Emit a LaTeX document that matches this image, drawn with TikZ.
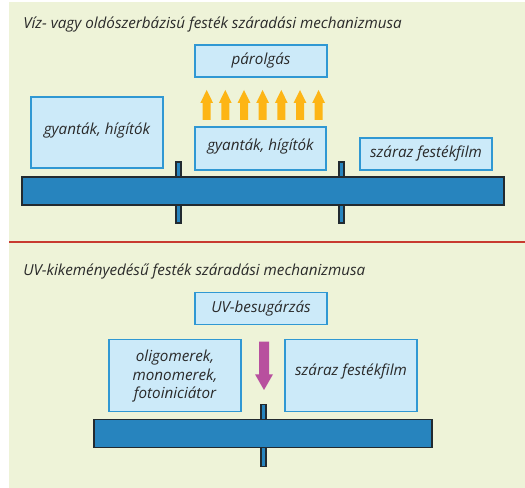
\documentclass[tikz,border=0pt]{standalone}
\usepackage{fontspec}
\setmainfont{Open Sans}
\usetikzlibrary{calc}
\definecolor{bggreen}{HTML}{EEF3D8}
\definecolor{boxfill}{HTML}{CCEAF9}
\definecolor{boxline}{HTML}{3098D3}
\definecolor{barblue}{HTML}{2784BE}
\definecolor{bardark}{HTML}{222A30}
\definecolor{redline}{HTML}{C83A30}
\definecolor{orangearr}{HTML}{FDB515}
\definecolor{magarr}{HTML}{B8509E}
\definecolor{txt}{HTML}{2A2A2A}
\tikzset{
  infobox/.style={draw=boxline, line width=0.9pt, fill=boxfill, inner sep=0pt},
  lbl/.style={font=\itshape\fontsize{11.4}{13.9}\selectfont, text=txt, align=center, inner sep=0pt},
  ttl/.style={font=\itshape\fontsize{11.4}{13.9}\selectfont, text=txt, anchor=base west, inner sep=0pt},
  barstyle/.style={draw=bardark, line width=1pt, fill=barblue},
  poststyle/.style={draw=bardark, line width=1pt, fill=barblue},
  uparr/.style={fill=orangearr},
  downarr/.style={fill=magarr}
}
\begin{document}
\begin{tikzpicture}[x=0.75pt,y=-0.75pt]
\useasboundingbox (0,0) rectangle (525,488);
\fill[white] (0,0) rectangle (525,488);
\fill[bggreen] (9,2) rectangle (525,488);
\coordinate (rl) at (9,242);
\coordinate (rr) at (525,242);
\draw[redline, line width=1.5pt] (rl) -- (rr);

% ---- section 1
\node[ttl] (t1) at (23,29) {Víz- vagy oldószerbázisú festék száradási mechanizmusa};
\node[infobox, minimum width=132*0.75pt, minimum height=32*0.75pt] (par) at (261,61) {};
\node[lbl] (parl) at (par.center) {párolgás};
\node[infobox, minimum width=132*0.75pt, minimum height=71*0.75pt] (gl) at (97,132.5) {};
\node[lbl] (gll) at ($(gl.center)+(0,-2)$) {gyanták, hígítók};
\node[infobox, minimum width=131*0.75pt, minimum height=43*0.75pt] (gm) at (260.5,148.5) {};
\node[lbl] (gml) at ($(gm.center)+(0,-1.5)$) {gyanták, hígítók};
\node[infobox, minimum width=132*0.75pt, minimum height=32*0.75pt] (sz1) at (426,154) {};
\node[lbl] (sz1l) at (sz1.center) {száraz festékfilm};

\draw[poststyle] (176,162) rectangle (181,223);
\draw[poststyle] (339,162) rectangle (344,223);
\node[barstyle, minimum width=482*0.75pt, minimum height=28*0.75pt, inner sep=0pt] (bar1) at (263,191) {};

\foreach \cx in {206.7,225.3,244,262.6,281.3,300,318.6} {
  \fill[uparr] (\cx-4,120) -- (\cx-4,103) -- (\cx-6.4,103) -- (\cx,90) -- (\cx+6.4,103) -- (\cx+4,103) -- (\cx+4,120) -- cycle;
}

% ---- section 2
\node[ttl] (t2) at (23,276) {UV-kikeményedésű festék száradási mechanizmusa};
\node[infobox, minimum width=132*0.75pt, minimum height=32*0.75pt] (uv) at (261,308.5) {};
\node[lbl] (uvl) at (uv.center) {UV-besugárzás};
\node[infobox, minimum width=132*0.75pt, minimum height=72*0.75pt] (ol) at (175,375.3) {};
\node[lbl] (oll) at ($(ol.center)+(0,1)$) {oligomerek,\\monomerek,\\fotoiniciátor};
\node[infobox, minimum width=132*0.75pt, minimum height=72*0.75pt] (sz2) at (351,375.3) {};
\node[lbl] (sz2l) at ($(sz2.center)+(0,-4)$) {száraz festékfilm};

\draw[poststyle] (261,404.3) rectangle (266,466.7);
\node[barstyle, minimum width=338*0.75pt, minimum height=28*0.75pt, inner sep=0pt] (bar2) at (263,433.3) {};

\fill[downarr] (259,341.7) -- (269,341.7) -- (269,374.3) -- (273,374.3) -- (264,390) -- (255,374.3) -- (259,374.3) -- cycle;
\end{tikzpicture}
\end{document}
